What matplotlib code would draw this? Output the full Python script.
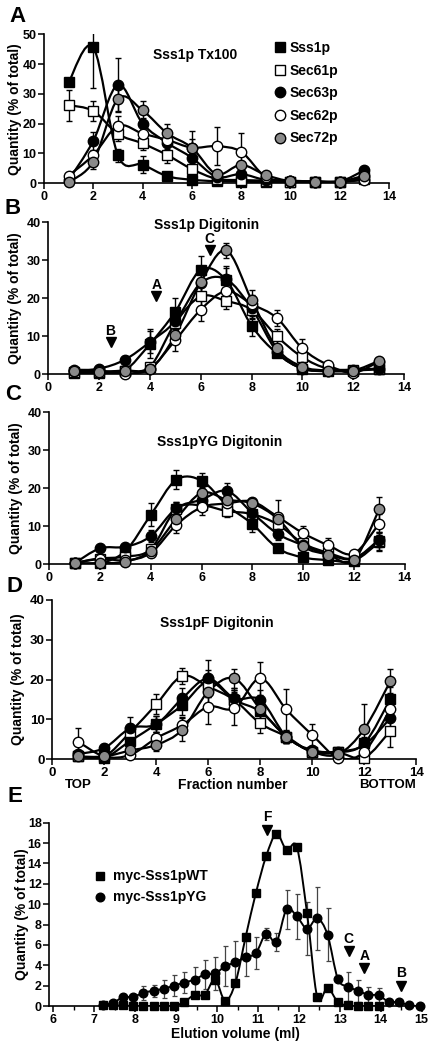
import matplotlib
matplotlib.use("Agg")
import matplotlib.pyplot as plt
from matplotlib.path import Path
from matplotlib.patches import PathPatch
from matplotlib.lines import Line2D

plt.rcParams["font.family"] = ["Liberation Sans", "DejaVu Sans"]
plt.rcParams["font.weight"] = "bold"

GREY = "#8a8a8a"

# ---- data -------------------------------------------------------------
fractions = [1, 2, 3, 4, 5, 6, 7, 8, 9, 10, 11, 12, 13]
proteins = ["Sss1p", "Sec61p", "Sec63p", "Sec62p", "Sec72p"]

# A: Sss1p Tx100
a_sss1p = [33.9, 45.6, 9.3, 6.2, 2.3, 1.1, 0.6, 0.5, 0.3, 0.3, 0.3, 0.3, 1.3]
a_sss1p_err = [0.5, 13.5, 2.3, 2.9, 0.5, 0.3, 0.2, 0.2, 0.1, 0.1, 0.1, 0.1, 0.5]
a_sec61p = [26.2, 24.2, 16.5, 13.3, 9.4, 4.7, 1.4, 1.0, 0.8, 0.5, 0.4, 0.4, 2.0]
a_sec61p_err = [5.2, 3.5, 2.5, 2.2, 2.8, 2.5, 0.5, 0.5, 0.3, 0.2, 0.2, 0.2, 0.5]
a_sec63p = [1.0, 14.2, 33.0, 20.0, 13.5, 8.5, 2.1, 3.0, 1.0, 0.8, 0.5, 0.5, 4.3]
a_sec63p_err = [0.5, 3.0, 9.0, 2.0, 2.0, 2.0, 0.5, 1.0, 0.5, 0.3, 0.2, 0.2, 1.0]
a_sec62p = [2.5, 9.4, 19.2, 16.6, 14.5, 11.9, 12.4, 10.5, 2.0, 0.8, 0.5, 0.5, 1.0]
a_sec62p_err = [0.5, 1.5, 3.5, 2.0, 2.0, 5.5, 6.4, 6.3, 0.5, 0.3, 0.2, 0.2, 0.5]
a_sec72p = [0.3, 7.2, 28.3, 24.4, 16.7, 11.9, 3.0, 6.1, 2.7, 0.6, 0.5, 0.5, 2.5]
a_sec72p_err = [0.5, 2.5, 4.0, 3.3, 3.3, 3.0, 1.0, 1.0, 0.5, 0.3, 0.2, 0.2, 0.5]

# B: Sss1p Digitonin
b_sss1p = [0.3, 0.3, 1.0, 8.0, 16.5, 27.5, 24.8, 12.8, 5.5, 1.5, 0.8, 1.0, 1.3]
b_sss1p_err = [0.3, 0.3, 0.5, 3.8, 3.5, 3.5, 3.7, 2.6, 1.0, 0.5, 0.3, 0.3, 0.5]
b_sec61p = [0.5, 0.5, 1.0, 2.0, 13.5, 20.5, 19.3, 17.0, 10.0, 4.5, 1.5, 1.2, 1.5]
b_sec61p_err = [0.3, 0.3, 0.5, 1.0, 2.5, 2.5, 2.0, 2.5, 2.0, 2.0, 0.5, 0.3, 0.5]
b_sec63p = [1.0, 1.5, 3.8, 8.5, 14.0, 24.0, 25.0, 17.4, 6.0, 1.5, 1.0, 1.2, 1.5]
b_sec63p_err = [0.3, 0.5, 1.0, 3.0, 3.0, 3.0, 3.0, 2.5, 1.0, 0.5, 0.3, 0.3, 0.5]
b_sec62p = [1.2, 1.0, 0.2, 1.5, 9.0, 17.0, 21.9, 18.5, 14.8, 6.8, 2.5, 0.4, 3.3]
b_sec62p_err = [0.3, 0.3, 0.3, 0.5, 2.8, 3.0, 2.5, 2.5, 2.0, 2.5, 0.5, 0.3, 0.5]
b_sec72p = [1.0, 0.7, 1.0, 1.3, 10.3, 24.2, 32.6, 19.6, 6.8, 2.0, 1.0, 1.0, 3.5]
b_sec72p_err = [0.3, 0.3, 0.3, 0.5, 2.0, 3.0, 1.9, 2.6, 1.0, 0.5, 0.3, 0.3, 0.5]

# C: Sss1pYG Digitonin
c_sss1p = [0.3, 0.3, 3.5, 13.0, 22.2, 22.0, 15.5, 10.6, 4.2, 1.8, 1.1, 0.9, 5.8]
c_sss1p_err = [0.2, 0.2, 1.0, 3.0, 2.5, 2.0, 2.5, 2.2, 1.0, 0.5, 0.3, 0.3, 2.0]
c_sec61p = [0.3, 1.5, 2.0, 4.0, 14.5, 15.5, 14.0, 13.2, 10.5, 5.5, 3.0, 1.5, 6.0]
c_sec61p_err = [0.2, 0.5, 0.5, 1.0, 2.0, 1.5, 1.5, 2.0, 2.0, 1.0, 0.8, 0.5, 2.5]
c_sec63p = [0.3, 4.2, 4.6, 7.4, 14.7, 17.0, 19.3, 13.5, 8.0, 5.0, 2.5, 1.5, 6.5]
c_sec63p_err = [0.2, 0.5, 0.8, 1.5, 1.8, 2.0, 2.2, 2.0, 1.5, 1.0, 0.5, 0.5, 2.0]
c_sec62p = [0.3, 1.5, 1.0, 3.0, 10.3, 15.0, 16.0, 16.5, 12.5, 8.2, 5.0, 2.8, 10.7]
c_sec62p_err = [0.2, 0.5, 0.5, 1.0, 2.0, 2.0, 1.5, 1.0, 4.5, 1.8, 2.0, 0.8, 2.5]
c_sec72p = [0.3, 0.3, 0.7, 3.6, 11.9, 18.8, 17.0, 16.0, 12.0, 4.7, 2.5, 1.0, 14.5]
c_sec72p_err = [0.2, 0.2, 0.3, 1.0, 1.5, 1.5, 1.5, 1.0, 1.5, 1.0, 0.5, 0.3, 3.1]

# D: Sss1pF Digitonin
d_sss1p = [0.7, 0.4, 4.6, 8.8, 13.6, 19.5, 14.9, 12.0, 5.7, 1.9, 1.7, 4.0, 15.1]
d_sss1p_err = [0.5, 0.5, 1.5, 2.0, 2.5, 3.0, 2.5, 2.5, 1.5, 0.8, 0.5, 1.5, 3.0]
d_sec61p = [0.7, 0.7, 6.8, 13.8, 20.9, 18.2, 14.9, 9.0, 5.7, 1.8, 1.7, 0.4, 7.1]
d_sec61p_err = [0.5, 0.5, 2.0, 2.5, 2.1, 2.5, 2.5, 2.5, 1.5, 0.8, 0.5, 0.5, 4.1]
d_sec63p = [1.3, 2.8, 7.8, 8.8, 15.3, 20.3, 15.3, 14.9, 5.7, 2.3, 1.9, 3.6, 10.3]
d_sec63p_err = [0.5, 1.0, 2.7, 2.0, 2.5, 4.6, 2.5, 2.5, 1.5, 0.8, 0.5, 1.5, 3.0]
d_sec62p = [4.4, 0.7, 1.1, 5.3, 8.6, 13.2, 12.8, 20.3, 12.5, 6.1, 0.4, 1.9, 12.6]
d_sec62p_err = [3.4, 0.5, 0.5, 1.5, 2.0, 4.4, 4.2, 4.1, 5.1, 2.7, 0.3, 1.0, 3.0]
d_sec72p = [0.7, 0.7, 2.2, 3.6, 7.4, 17.0, 20.3, 12.6, 5.7, 1.9, 1.3, 7.6, 19.6]
d_sec72p_err = [0.5, 0.5, 1.0, 1.5, 2.9, 3.0, 2.3, 2.5, 1.5, 0.8, 0.5, 6.4, 3.0]

# E: gel filtration
e_volume = [7.2, 7.45, 7.7, 7.95, 8.2, 8.45, 8.7, 8.95, 9.2, 9.45, 9.7, 9.95,
            10.2, 10.45, 10.7, 10.95, 11.2, 11.45, 11.7, 11.95, 12.2, 12.45,
            12.7, 12.95, 13.2, 13.45, 13.7, 13.95, 14.2, 14.45, 14.7, 14.95]
e_wt = [0.1, 0.05, 0.05, 0.0, 0.0, 0.0, 0.0, 0.0, 0.4, 1.1, 1.1, 2.6,
        0.5, 2.3, 6.8, 11.1, 14.7, 16.9, 15.3, 15.6, 9.1, 0.85,
        1.8, 0.4, 0.05, 0.0, 0.0, 0.0]
e_yg = [0.1, 0.3, 0.85, 0.9, 1.3, 1.5, 1.7, 2.0, 2.3, 2.6, 3.1, 3.2,
        3.9, 4.3, 4.8, 5.2, 7.1, 6.3, 9.5, 8.8, 7.6, 8.6,
        7.0, 2.7, 1.9, 1.5, 1.1, 1.05, 0.4, 0.4, 0.05, 0.0]
e_yg_err = [0.0, 0.0, 0.2, 0.2, 0.7, 0.6, 0.9, 1.0, 1.0, 1.25, 1.4, 1.65,
            1.95, 2.1, 1.9, 1.6, 0.6, 0.9, 1.9, 2.2, 2.6, 3.1,
            2.6, 0.3, 1.4, 1.1, 0.8, 0.75, 0.1, 0.1, 0.0, 0.0]

# arrowheads: (label, x, y)
b_markers = [("B", 2.45, 8.5), ("A", 4.25, 20.6), ("C", 6.35, 32.7)]
e_markers = [("F", 11.22, 17.3), ("C", 13.22, 5.4), ("A", 13.6, 3.7), ("B", 14.5, 2.0)]

STYLE = {
    "Sss1p": ("s", "black", 7),
    "Sec61p": ("s", "white", 7),
    "Sec63p": ("o", "black", 7.5),
    "Sec62p": ("o", "white", 7.5),
    "Sec72p": ("o", GREY, 7.5),
}


def smooth_line(ax, x, y, lw=1.6):
    # smooth connecting curve through the points (Catmull-Rom as Bezier)
    n = len(y)
    verts = [(x[0], y[0])]
    codes = [Path.MOVETO]
    for i in range(n - 1):
        i0 = max(i - 1, 0)
        i3 = min(i + 2, n - 1)
        verts.append((x[i] + (x[i + 1] - x[i0]) / 6, y[i] + (y[i + 1] - y[i0]) / 6))
        verts.append((x[i + 1] - (x[i3] - x[i]) / 6, y[i + 1] - (y[i3] - y[i]) / 6))
        verts.append((x[i + 1], y[i + 1]))
        codes += [Path.CURVE4] * 3
    ax.add_patch(PathPatch(Path(verts, codes), fill=False, lw=lw, ec="black", zorder=2))


def style_axes(ax, tick_size):
    for s in ["top", "right"]:
        ax.spines[s].set_visible(False)
    for s in ["left", "bottom"]:
        ax.spines[s].set_linewidth(1.2)
    ax.tick_params(direction="out", length=4, width=1.1, labelsize=tick_size, pad=1.5)
    for lab in ax.get_xticklabels() + ax.get_yticklabels():
        lab.set_fontweight("bold")


def fraction_panel(ax, data, ymax, ystep, title, title_xy, tick_size=9):
    for name, (vals, errs) in zip(proteins, data):
        ax.errorbar(fractions, vals, yerr=errs, fmt="none", ecolor="black",
                    elinewidth=1, capsize=2.2, capthick=1, zorder=2)
        smooth_line(ax, fractions, vals)
    for name, (vals, errs) in zip(proteins, data):
        m, fc, ms = STYLE[name]
        ax.plot(fractions, vals, linestyle="none", marker=m, mfc=fc, mec="black",
                ms=ms, mew=1, clip_on=False, zorder=3)
    ax.set_xlim(0, 14)
    ax.set_ylim(0, ymax)
    ax.set_xticks(range(0, 15, 2))
    ax.set_yticks(range(0, ymax + 1, ystep))
    ax.text(title_xy[0], title_xy[1], title, transform=ax.transAxes, ha="center",
            va="center", fontsize=10, fontweight="bold")
    ax.set_ylabel("Quantity (% of total)", fontsize=10, fontweight="bold")
    style_axes(ax, tick_size)


def arrowheads(ax, marks, gap):
    for lab, x, y in marks:
        ax.plot([x], [y], marker="v", color="black", ms=7, linestyle="none",
                zorder=4, clip_on=False)
        ax.annotate(lab, (x, y), xytext=(0, gap), textcoords="offset points",
                    ha="center", va="center", fontsize=10, fontweight="bold",
                    annotation_clip=False)


fig = plt.figure(figsize=(4.38, 10.5), dpi=100)

ax_a = fig.add_axes([0.1005, 0.8257, 0.7877, 0.1416])
ax_b = fig.add_axes([0.1103, 0.6435, 0.8121, 0.1448])
ax_c = fig.add_axes([0.1126, 0.4626, 0.8110, 0.1448])
ax_d = fig.add_axes([0.1194, 0.2769, 0.8310, 0.1517])
ax_e = fig.add_axes([0.1126, 0.0419, 0.8500, 0.1746])

fraction_panel(ax_a, [(a_sss1p, a_sss1p_err), (a_sec61p, a_sec61p_err), (a_sec63p, a_sec63p_err),
                      (a_sec62p, a_sec62p_err), (a_sec72p, a_sec72p_err)],
               50, 10, "Sss1p Tx100", (0.438, 0.861), tick_size=9)
fraction_panel(ax_b, [(b_sss1p, b_sss1p_err), (b_sec61p, b_sec61p_err), (b_sec63p, b_sec63p_err),
                      (b_sec62p, b_sec62p_err), (b_sec72p, b_sec72p_err)],
               40, 10, "Sss1p Digitonin", (0.446, 0.985), tick_size=9)
fraction_panel(ax_c, [(c_sss1p, c_sss1p_err), (c_sec61p, c_sec61p_err), (c_sec63p, c_sec63p_err),
                      (c_sec62p, c_sec62p_err), (c_sec72p, c_sec72p_err)],
               40, 10, "Sss1pYG Digitonin", (0.48, 0.807), tick_size=9)
fraction_panel(ax_d, [(d_sss1p, d_sss1p_err), (d_sec61p, d_sec61p_err), (d_sec63p, d_sec63p_err),
                      (d_sec62p, d_sec62p_err), (d_sec72p, d_sec72p_err)],
               40, 10, "Sss1pF Digitonin", (0.452, 0.854), tick_size=9.5)

for ax, xc in [(ax_a, -0.064), (ax_b, -0.074), (ax_c, -0.074), (ax_d, -0.075)]:
    ax.yaxis.set_label_coords(xc, 0.5)

# legend for A
handles = []
for name in proteins:
    m, fc, ms = STYLE[name]
    handles.append(Line2D([], [], linestyle="none", marker=m, mfc=fc, mec="black",
                          ms=7.5, mew=1, label=name))
ax_a.legend(handles=handles, loc="upper left", bbox_to_anchor=(0.665, 0.955),
            frameon=False, handlelength=0.9, handletextpad=0.25, labelspacing=0.62,
            borderpad=0, borderaxespad=0, prop={"size": 10, "weight": "bold"})

arrowheads(ax_b, b_markers, 8)

# fraction labels under D
fig.text(78 / 438, 1 - 785 / 1050, "TOP", ha="center", va="center", fontsize=9.5, fontweight="bold")
fig.text(233 / 438, 1 - 785 / 1050, "Fraction number", ha="center", va="center",
         fontsize=10, fontweight="bold")
fig.text(388 / 438, 1 - 785 / 1050, "BOTTOM", ha="center", va="center", fontsize=9.5, fontweight="bold")

# E: elution profiles
ax_e.errorbar(e_volume, e_yg, yerr=e_yg_err, fmt="none", ecolor="#444444",
              elinewidth=0.9, capsize=1.8, capthick=0.9, zorder=2)
smooth_line(ax_e, e_volume[:len(e_wt)], e_wt, lw=1.4)
smooth_line(ax_e, e_volume, e_yg, lw=1.4)
ax_e.plot(e_volume[:len(e_wt)], e_wt, linestyle="none", marker="s", color="black",
          ms=5.2, clip_on=False, zorder=3, label="myc-Sss1pWT")
ax_e.plot(e_volume, e_yg, linestyle="none", marker="o", color="black",
          ms=6.2, clip_on=False, zorder=3, label="myc-Sss1pYG")
arrowheads(ax_e, e_markers, 9)
ax_e.set_xlim(5.9, 15)
ax_e.set_ylim(0, 18)
ax_e.set_xticks(range(6, 16))
ax_e.set_xticks([6.5 + i for i in range(9)], minor=True)
ax_e.set_yticks(range(0, 19, 2))
ax_e.tick_params(axis="x", which="minor", direction="out", length=3, width=1)
ax_e.set_xlabel("Elution volume (ml)", fontsize=10, fontweight="bold", labelpad=1)
ax_e.set_ylabel("Quantity (% of total)", fontsize=10, fontweight="bold")
ax_e.yaxis.set_label_coords(-0.055, 0.5)
ax_e.legend(loc="upper left", bbox_to_anchor=(0.12, 0.745), frameon=False,
            handlelength=0.8, handletextpad=0.6, labelspacing=0.5, borderpad=0,
            borderaxespad=0, prop={"size": 10, "weight": "bold"})
style_axes(ax_e, 9)

# panel letters
for lab, x, y in [("A", 17, 16), ("B", 13, 208), ("C", 13, 395), ("D", 15, 587), ("E", 15, 796)]:
    fig.text(x / 438, 1 - y / 1050, lab, ha="center", va="center", fontsize=16, fontweight="bold")

fig.savefig("out.png", dpi=100)
